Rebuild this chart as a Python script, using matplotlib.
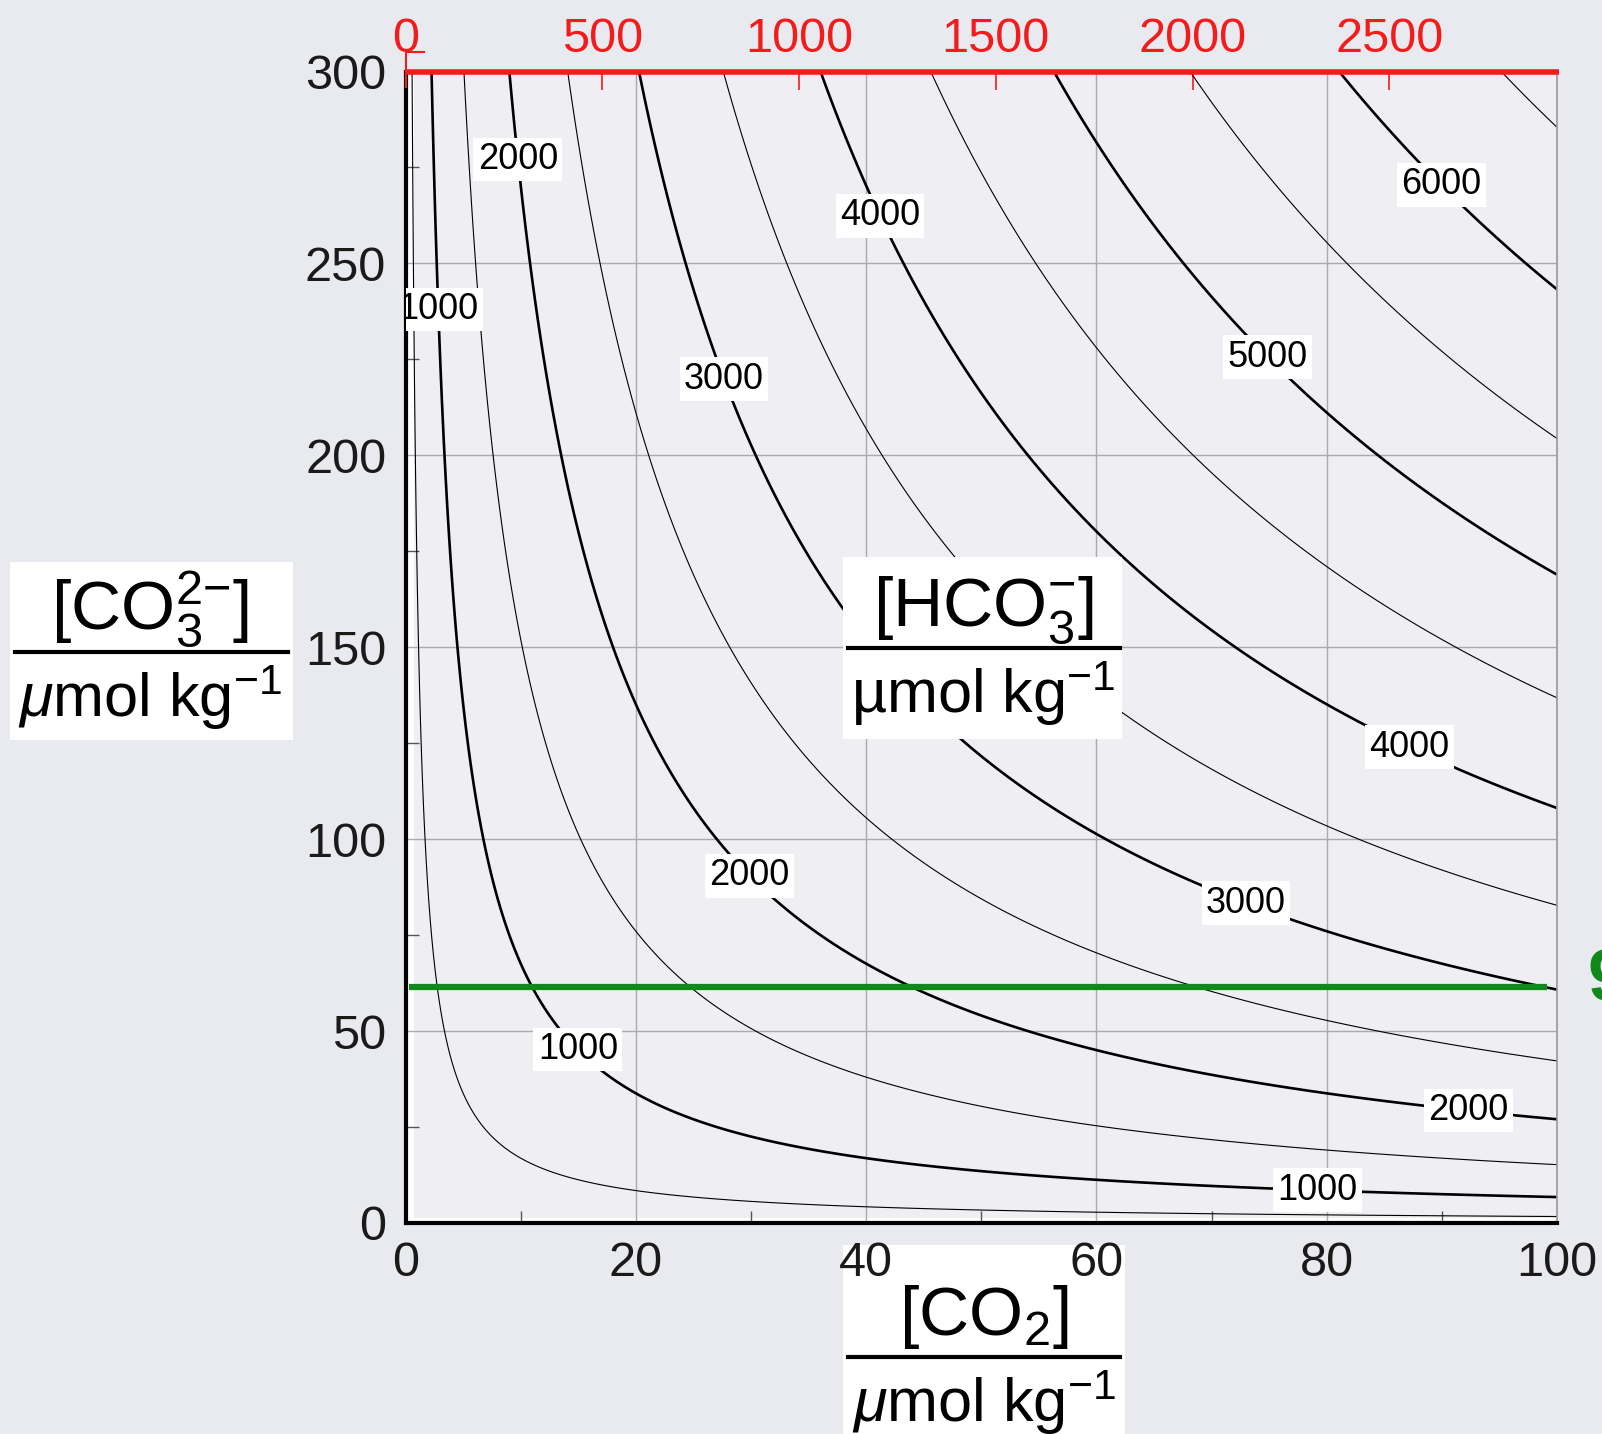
import numpy as np
import matplotlib.pyplot as plt
from matplotlib.patches import Rectangle
from matplotlib.lines import Line2D

plt.rcParams['font.family'] = ['Liberation Sans', 'DejaVu Sans']
plt.rcParams['mathtext.fontset'] = 'custom'
plt.rcParams['mathtext.rm'] = 'Liberation Sans'
plt.rcParams['mathtext.it'] = 'Liberation Sans:italic'
plt.rcParams['mathtext.bf'] = 'Liberation Sans:bold'

# [HCO3-]^2 = K * [CO2] * [CO3 2-]
K_RATIO = 1480.0
# pCO2 (uatm) per [CO2] (umol/kg)
PCO2_PER_CO2 = 29.26

co2_lim = [0, 100]
co3_lim = [0, 300]
co2_ticks = [0, 20, 40, 60, 80, 100]
co3_ticks = [0, 50, 100, 150, 200, 250, 300]
pco2_ticks = [0, 500, 1000, 1500, 2000, 2500]

thin_levels = [500, 1500, 2500, 3500, 4500, 5500, 6500]
thick_levels = [1000, 2000, 3000, 4000, 5000, 6000]

# where the HCO3 labels sit on the thick contours
label_spots = [(2.9, 238), (14.9, 45), (79.2, 8.3),
               (9.6, 277), (29.8, 90.2), (92.3, 29),
               (27.6, 219.8), (73.0, 83.3),
               (41.1, 262.3), (87.2, 124),
               (74.9, 225.6),
               (90.0, 270.6)]

# horizontal carbonate level
green_co3 = 61.5
green_co2 = [0.3, 99.1]

RED = '#f21c1c'
GREEN = '#11891a'
W, H = 1602, 1434

fig = plt.figure(figsize=(W / 100, H / 100), dpi=100)
fig.patch.set_facecolor('#e9eaef')

ax = fig.add_axes([405.6 / W, 1 - 1223 / H, (1557 - 405.6) / W, (1223 - 71.5) / H])
ax.set_facecolor('white')
ax.add_patch(Rectangle((0.007, 0.0045), 1, 1, transform=ax.transAxes,
                       fc='#eeeef3', ec='none', zorder=0))

x = np.linspace(0.01, 100, 900)
y = np.linspace(0.01, 300, 900)
X, Y = np.meshgrid(x, y)
Z = np.sqrt(K_RATIO * X * Y)

ax.contour(X, Y, Z, levels=thin_levels, colors='black', linewidths=0.8, zorder=2)
cs = ax.contour(X, Y, Z, levels=thick_levels, colors='black', linewidths=1.9, zorder=2)
labels = ax.clabel(cs, inline=False, fontsize=26, fmt='%d', manual=label_spots, zorder=4)
for t in labels:
    t.set_rotation(0)
    t.set_bbox(dict(boxstyle='square,pad=0.12', fc='white', ec='none'))

ax.plot(green_co2, [green_co3, green_co3], color=GREEN, lw=4.5, solid_capstyle='butt', zorder=3)

ax.set_xlim(co2_lim)
ax.set_ylim(co3_lim)
ax.set_xticks(co2_ticks)
ax.set_yticks(co3_ticks)
ax.set_xticks([10, 30, 50, 70, 90], minor=True)
ax.set_yticks([25, 75, 125, 175, 225, 275], minor=True)
ax.grid(True, which='major', color='#ababab', lw=1.0)
ax.set_axisbelow(True)
ax.tick_params(which='major', length=0, labelsize=35, labelcolor='#1a1a1a')
ax.tick_params(axis='x', which='major', pad=13)
ax.tick_params(axis='y', which='major', pad=14)
ax.tick_params(which='minor', direction='in', length=9, width=1, color='#555555')

for side in ['left', 'bottom']:
    ax.spines[side].set_linewidth(3)
    ax.spines[side].set_color('black')
for side in ['top', 'right']:
    ax.spines[side].set_linewidth(1.2)
    ax.spines[side].set_color('#9a9a9a')

# pCO2 scale along the top
sec = ax.secondary_xaxis('top', functions=(lambda c: c * PCO2_PER_CO2,
                                           lambda p: p / PCO2_PER_CO2))
sec.set_xticks(pco2_ticks)
sec.tick_params(direction='in', length=14, width=1.2, colors=RED, labelsize=35, pad=7)
sec.spines['top'].set_visible(False)
ax.plot([0, 100.2], [co3_lim[1], co3_lim[1]], color=RED, lw=4, clip_on=False,
        solid_capstyle='butt', zorder=5)
ax.plot([1.6, 0, 0], [305, 305, 296], color=RED, lw=1.5, clip_on=False, zorder=5)


def fraction_label(cx, bar_y, bar_x, box, num, den, under_axes=False):
    z = -1 if under_axes else 5
    bx0, by0, bx1, by1 = box
    fig.add_artist(Rectangle((bx0 / W, 1 - by1 / H), (bx1 - bx0) / W, (by1 - by0) / H,
                             transform=fig.transFigure, fc='white', ec='none', zorder=z))
    fig.add_artist(Line2D([bar_x[0] / W, bar_x[1] / W], [1 - bar_y / H] * 2,
                          transform=fig.transFigure, color='black', lw=3, zorder=6))
    fig.text(cx / W, 1 - (bar_y - 22) / H, num, ha='center', va='baseline',
             fontsize=50, zorder=6)
    fig.text(cx / W, 1 - (bar_y + 65) / H, den, ha='center', va='baseline',
             fontsize=44, zorder=6)


fraction_label(150, 652, (15, 288), (10, 562, 293, 740),
               r'[CO$_3^{2{-}}$]', r'$\mu$mol kg$^{-1}$')
fraction_label(983, 648, (848, 1120), (843, 557, 1122, 739),
               r'[HCO$_3^{-}$]', r'µmol kg$^{-1}$')
fraction_label(984, 1357, (848, 1120), (843, 1245, 1125, 1440),
               r'[CO$_2$]', r'$\mu$mol kg$^{-1}$', under_axes=True)

fig.text(1588 / W, 1 - 1000 / H, '9', color=GREEN, fontsize=52, fontweight='bold',
         va='baseline')

fig.savefig('out.png', dpi=100, facecolor=fig.get_facecolor())
